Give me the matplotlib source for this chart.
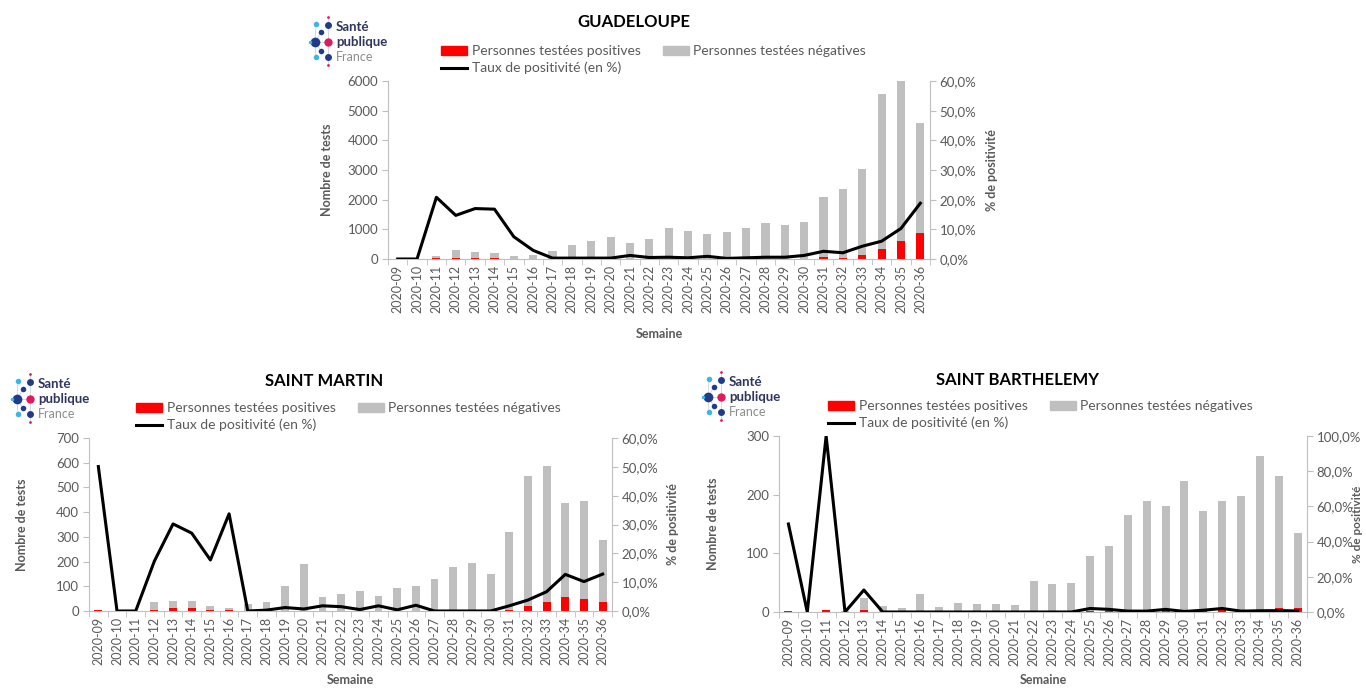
import numpy as np
import matplotlib
matplotlib.use('Agg')
import matplotlib.pyplot as plt
from matplotlib.ticker import FuncFormatter, FixedLocator

plt.rcParams['font.family'] = ['Lato', 'DejaVu Sans']

weeks = ['2020-%02d' % w for w in range(9, 37)]

# Guadeloupe
gp_pos = [0, 0, 25, 45, 40, 30, 8, 4, 1, 1, 2, 2, 7, 3, 6, 4, 8, 2, 4, 7, 7, 15, 55, 50, 130, 335, 620, 870]
gp_neg = [0, 0, 85, 255, 185, 160, 92, 116, 259, 459, 598, 738, 533, 682, 1024, 936, 842, 918, 1026, 1223,
          1133, 1240, 2030, 2315, 2900, 5215, 5380, 3730]
gp_rate = [0, 0, 20.8, 14.7, 17.0, 16.8, 7.5, 2.9, 0.3, 0.3, 0.3, 0.3, 1.2, 0.5, 0.6, 0.4, 0.9, 0.2, 0.4, 0.6,
           0.6, 1.2, 2.6, 2.1, 4.3, 6.0, 10.3, 18.8]

# Saint Martin
sm_pos = [3, 0, 0, 5, 11, 11, 3, 5, 0, 0, 1, 1, 1, 1, 0, 1, 0, 2, 0, 0, 0, 0, 6, 21, 38, 55, 47, 37]
sm_neg = [3, 0, 0, 31, 31, 31, 19, 9, 30, 36, 101, 190, 55, 66, 82, 61, 92, 98, 129, 179, 194, 148, 313, 527,
          547, 381, 397, 250]
sm_rate = [50.1, 0, 0, 17.3, 30.2, 27.0, 17.7, 33.7, 0, 0.3, 1.2, 0.7, 1.8, 1.5, 0.5, 1.8, 0.4, 2.0, 0, 0, 0, 0,
           1.8, 3.8, 6.7, 12.7, 10.2, 12.8]

# Saint Barthelemy
sb_pos = [1, 0, 3, 0, 3, 0, 0, 0, 0, 0, 0, 0, 0, 0, 0, 0, 2, 2, 1, 1, 3, 1, 2, 4, 1, 2, 7, 6]
sb_neg = [1, 0, 0, 1, 21, 10, 6, 31, 8, 15, 14, 13, 12, 52, 48, 50, 93, 111, 164, 189, 178, 222, 170, 186, 197,
          264, 225, 129]
sb_rate = [50, 0, 100, 0, 12.5, 0, 0, 0, 0, 0, 0, 0, 0, 0, 0, 0, 2.0, 1.5, 0.5, 0.5, 1.5, 0.3, 1.0, 2.0, 0.5,
           0.7, 0.8, 0.6]

RED = '#FF0000'
GREY = '#BFBFBF'
SPINE = '#BFBFBF'
TXT = '#595959'

W, H = 1366, 690
fig = plt.figure(figsize=(W / 100, H / 100), dpi=100)


def pct(v, _):
    return ('%.1f%%' % v).replace('.', ',')


def panel(box, pos, neg, rate, ymax, ystep, rmax, rstep, title, title_xy, leg_xy, lab_off, rlab_size=9):
    x0, y0, x1, y1 = box
    wpx, hpx = x1 - x0, y1 - y0
    ax = fig.add_axes([x0 / W, 1 - y1 / H, wpx / W, hpx / H])
    x = np.arange(len(weeks))
    ax.bar(x, pos, width=0.42, color=RED, zorder=2)
    ax.bar(x, neg, width=0.42, bottom=pos, color=GREY, zorder=2)
    ax.set_xlim(-0.5, len(weeks) - 0.5)
    ax.set_ylim(0, ymax)
    ax.set_yticks(np.arange(0, ymax + 1, ystep))
    ax.set_xticks(x)
    ax.set_xticklabels(weeks, rotation=90, fontsize=9, color=TXT)
    ax.xaxis.set_minor_locator(FixedLocator(np.arange(-0.5, len(weeks), 1)))
    ax.tick_params(axis='x', which='major', length=0, pad=4)
    ax.tick_params(axis='x', which='minor', length=4, color=SPINE)
    ax.tick_params(axis='y', length=4, color=SPINE, labelsize=9.5, labelcolor=TXT, pad=3)
    for s in ['top', 'right']:
        ax.spines[s].set_visible(False)
    for s in ['left', 'bottom']:
        ax.spines[s].set_color(SPINE)
    ax.set_ylabel('Nombre de tests', fontsize=9, fontweight='bold', color=TXT)
    ax.yaxis.set_label_coords(-lab_off[0] / wpx, 0.5)
    ax.set_xlabel('Semaine', fontsize=9, fontweight='bold', color=TXT)
    ax.xaxis.set_label_coords(0.5, -lab_off[2] / hpx)

    ax2 = ax.twinx()
    ln, = ax2.plot(x, rate, color='black', lw=2.2, zorder=3)
    ax2.set_ylim(0, rmax)
    ax2.set_yticks(np.arange(0, rmax + 0.1, rstep))
    ax2.yaxis.set_major_formatter(FuncFormatter(pct))
    ax2.tick_params(axis='y', length=4, color=SPINE, labelsize=9.5, labelcolor=TXT, pad=3)
    for s in ['top', 'left', 'bottom']:
        ax2.spines[s].set_visible(False)
    ax2.spines['right'].set_color(SPINE)
    ax2.set_ylabel('% de positivité', fontsize=rlab_size, fontweight='bold', color=TXT)
    ax2.yaxis.set_label_coords(1 + lab_off[1] / wpx, 0.5)

    h_pos = plt.Rectangle((0, 0), 1, 1, color=RED)
    h_neg = plt.Rectangle((0, 0), 1, 1, color=GREY)
    fig.legend([h_pos, ln, h_neg],
               ['Personnes testées positives', 'Taux de positivité (en %)', 'Personnes testées négatives'],
               ncol=2, loc='upper left', bbox_to_anchor=(leg_xy[0] / W, 1 - leg_xy[1] / H),
               frameon=False, fontsize=10, handlelength=1.9, handleheight=0.6, handletextpad=0.3,
               columnspacing=1.6, labelspacing=0.35, borderpad=0, borderaxespad=0, labelcolor=TXT)
    fig.text(title_xy[0] / W, 1 - title_xy[1] / H, title, ha='center', va='center',
             fontsize=12, fontweight='bold', color='black')


panel((388, 81, 930, 259), gp_pos, gp_neg, gp_rate, 6000, 1000, 60, 10,
      'GUADELOUPE', (634, 22), (441, 45), (55, 56, 69))
panel((89, 438, 612, 611), sm_pos, sm_neg, sm_rate, 700, 100, 60, 10,
      'SAINT MARTIN', (324, 381), (136, 402), (61, 55, 63))
panel((779, 436, 1307, 612), sb_pos, sb_neg, sb_rate, 300, 100, 100, 20,
      'SAINT BARTHELEMY', (1017, 380), (828, 400), (60, 45, 62), rlab_size=8.5)

# logos
ov = fig.add_axes([0, 0, 1, 1], zorder=-1)
ov.set_xlim(0, W)
ov.set_ylim(H, 0)
ov.axis('off')

NAVY = '#1F3C8C'
PINK = '#E2195B'
LBLUE = '#3DB5E6'
dots = [(18, 2, 2, PINK), (6, 9, 4, LBLUE), (18, 10, 5, NAVY), (11, 17, 4, NAVY), (5, 27, 7, NAVY),
        (0, 27, 2.5, LBLUE), (18, 27, 6, PINK), (11, 36, 4, NAVY), (6, 42, 4, LBLUE), (18, 42, 5, NAVY),
        (18, 50, 2, PINK)]


def logo(ox, oy):
    for dx, dy in [(6, 9), (11, 17), (0, 27), (18, 27), (11, 36), (6, 42)]:
        ov.plot([ox + 5, ox + dx], [oy + 27, oy + dy], color='#D0D0D8', lw=0.6, zorder=1)
    ov.plot([ox + 18, ox + 18], [oy + 2, oy + 50], color='#D0D0D8', lw=0.6, zorder=1)
    for dx, dy, r, c in dots:
        ov.plot(ox + dx, oy + dy, 'o', ms=r, color=c, mec='none', zorder=2)
    ov.text(ox + 26, oy + 12, 'Santé', fontsize=9.5, fontweight='bold', color='#2E3660', va='center')
    ov.text(ox + 26, oy + 27, 'publique', fontsize=9.5, fontweight='bold', color='#2E3660', va='center')
    ov.text(ox + 26, oy + 42, 'France', fontsize=9, color='#8C8C8C', va='center')


logo(310, 15)
logo(12, 372)
logo(703, 370)

fig.savefig('out.png', dpi=100)
